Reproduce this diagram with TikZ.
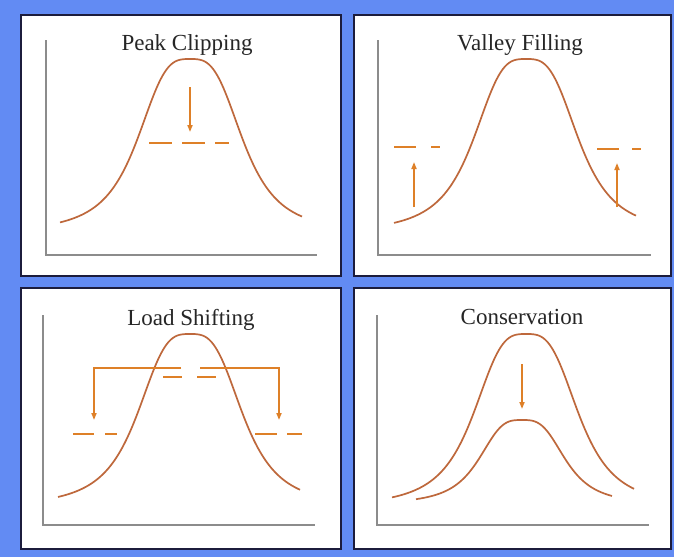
\documentclass[tikz,border=0pt]{standalone}
\usepackage{fontspec}
\setmainfont{Liberation Serif}
\usetikzlibrary{arrows.meta}
\definecolor{bg}{RGB}{98,139,243}
\definecolor{framec}{RGB}{28,28,60}
\definecolor{axisgray}{RGB}{140,140,140}
\definecolor{curvec}{RGB}{190,104,60}
\definecolor{arrowc}{RGB}{222,128,40}
\begin{document}
\begin{tikzpicture}[x=1pt,y=-1pt,
  panel/.style={draw=framec, line width=2pt, fill=white},
  axisline/.style={draw=axisgray, line width=1.8pt},
  loadcurve/.style={draw=curvec, line width=1.7pt},
  shiftarrow/.style={draw=arrowc, line width=1.6pt, -{Triangle[length=7pt,width=5pt]}},
  dashseg/.style={draw=arrowc, line width=1.6pt},
  title/.style={font=\fontsize{23}{27}\selectfont, anchor=base, text=black!85}]
\fill[bg] (0,0) rectangle (674,557);
\useasboundingbox (0,0) rectangle (674,557);
% panels
\draw[panel] (21,15) rectangle (341,276);
\draw[panel] (354,15) rectangle (671,276);
\draw[panel] (21,288) rectangle (341,549);
\draw[panel] (354,288) rectangle (671,549);
% axes
\draw[axisline] (46,40) -- (46,255) -- (317,255);
\draw[axisline] (378,40) -- (378,255) -- (651,255);
\draw[axisline] (43,315) -- (43,525) -- (315,525);
\draw[axisline] (377,315) -- (377,525) -- (649,525);
% titles
\node[title] (t1) at (187,50) {Peak Clipping};
\node[title] (t2) at (520,50) {Valley Filling};
\node[title] (t3) at (191,325) {Load Shifting};
\node[title] (t4) at (522,324) {Conservation};
% curves
\draw[loadcurve] plot[domain=60:302, samples=121, smooth] (\x,{233-174/(1+(abs((\x-190)/55.3)+0.0001)^3.2)});
\draw[loadcurve] plot[domain=394:636, samples=121, smooth] (\x,{233-174/(1+(abs((\x-526)/55.3)+0.0001)^3.2)});
\draw[loadcurve] plot[domain=58:300, samples=121, smooth] (\x,{507-173/(1+(abs((\x-190)/55.3)+0.0001)^3.2)});
\draw[loadcurve] plot[domain=392:634, samples=121, smooth] (\x,{507-173/(1+(abs((\x-526)/55.3)+0.0001)^3.2)});
\draw[loadcurve] plot[domain=416:612, samples=121, smooth] (\x,{504.4-84.4/(1+(abs((\x-522)/45.3)+0.0001)^3.2)});
% Peak clipping
\draw[shiftarrow] (190,87) -- (190,132);
\draw[dashseg, dash pattern=on 23pt off 10pt] (149,143) -- (229,143);
% Valley filling
\draw[shiftarrow] (414,207) -- (414,162);
\draw[shiftarrow] (617,207) -- (617,163);
\draw[dashseg, dash pattern=on 22pt off 15pt] (394,147) -- (440,147);
\draw[dashseg, dash pattern=on 22pt off 13pt] (597,149) -- (641,149);
% Load shifting
\draw[shiftarrow] (181,368) -- (94,368) -- (94,420);
\draw[shiftarrow] (200,368) -- (279,368) -- (279,420);
\draw[dashseg, dash pattern=on 19pt off 15pt] (163,377) -- (217,377);
\draw[dashseg, dash pattern=on 21pt off 11pt] (73,434) -- (117,434);
\draw[dashseg, dash pattern=on 22pt off 10pt] (255,434) -- (302,434);
% Conservation
\draw[shiftarrow] (522,364) -- (522,409);
\end{tikzpicture}
\end{document}
